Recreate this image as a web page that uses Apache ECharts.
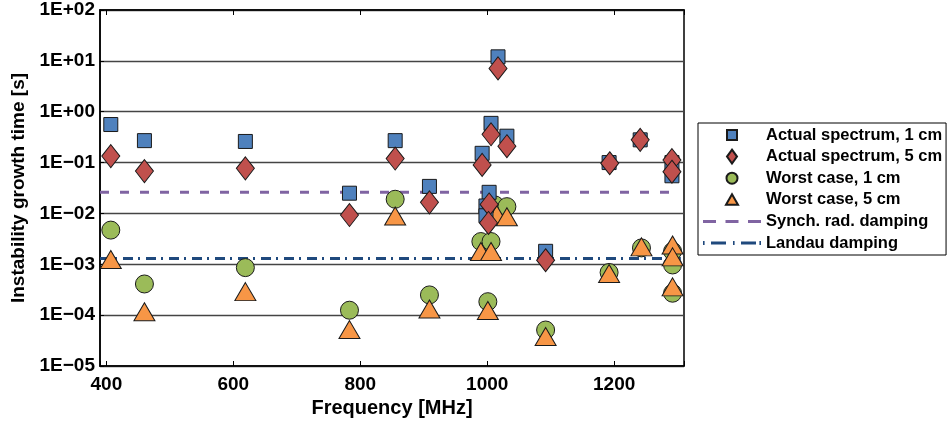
<!DOCTYPE html>
<html>
<head>
<meta charset="utf-8">
<script src="https://cdn.jsdelivr.net/npm/echarts@6/dist/echarts.min.js"></script>
<style>
  html, body { margin: 0; padding: 0; background: #fff; }
  #pic1 { width: 947px; height: 424px; }
</style>
</head>
<body>
<div id="pic1"></div>
<script>
// Actual spectrum, 1 cm
var actual1Freq = [407, 460, 619, 783, 855, 909, 992, 1006, 1017, 1031, 1003, 998, 998, 1092, 1192, 1241, 1291, 1291];
var actual1Time = [0.56, 0.27, 0.26, 0.025, 0.27, 0.034, 0.152, 0.59, 12, 0.33, 0.026, 0.014, 0.009, 0.0018, 0.1, 0.28, 0.055, 0.1];
// Actual spectrum, 5 cm
var actual5Freq = [407, 460, 619, 783, 855, 909, 992, 1006, 1017, 1031, 1003, 1002, 1092, 1193, 1241, 1291, 1291];
var actual5Time = [0.134, 0.068, 0.077, 0.0093, 0.12, 0.0165, 0.09, 0.36, 7.1, 0.21, 0.015, 0.0065, 0.0012, 0.097, 0.28, 0.112, 0.066];
// Worst case, 1 cm
var worst1Freq = [407, 460, 619, 783, 855, 909, 990, 1006, 1001, 1012, 1031, 1092, 1192, 1243, 1292, 1292, 1292];
var worst1Time = [0.0047, 0.00041, 0.00086, 0.000125, 0.019, 0.00025, 0.0028, 0.0028, 0.000184, 0.0147, 0.0136, 0.000051, 0.00069, 0.0021, 0.0018, 0.00097, 0.00027];
// Worst case, 5 cm
var worst5Freq = [407, 460, 619, 783, 855, 909, 990, 1006, 1001, 1015, 1031, 1092, 1192, 1243, 1292, 1292, 1292];
var worst5Time = [0.00124, 0.000117, 0.00029, 0.000052, 0.0089, 0.000132, 0.00178, 0.00178, 0.000123, 0.0095, 0.0086, 0.000038, 0.00066, 0.0022, 0.0024, 0.0014, 0.00036];
// damping levels
var synchFreq = [390, 1292];
var synchTime = [0.026, 0.026];
var landauFreq = [390, 1305];
var landauTime = [0.0013, 0.0013];

var names = ['Actual spectrum, 1 cm', 'Actual spectrum, 5 cm', 'Worst case, 1 cm', 'Worst case, 5 cm',
             'Synch. rad. damping', 'Landau damping'];

function pairs(xs, ys) {
    return xs.map(function (x, i) { return [x, ys[i]]; });
}

// legend icons: 58x14 box, empty moves at the corners keep the aspect
var box = 'M0,0L0,0M58,14L58,14';
var legendIcons = [
    'path://' + box + 'M24,2L34,2L34,12L24,12Z',
    'path://' + box + 'M29,0L34,7L29,14L24,7Z',
    'path://' + box + 'M34.5,7A5.5,5.5 0 1 1 23.5,7A5.5,5.5 0 1 1 34.5,7Z',
    'path://' + box + 'M29,1.5L35,12L23,12Z',
    'path://' + box + 'M0,5.5L13,5.5L13,8.5L0,8.5ZM22.5,5.5L35.5,5.5L35.5,8.5L22.5,8.5ZM45,5.5L58,5.5L58,8.5L45,8.5Z',
    'path://' + box + 'M0,5L1.6,5L1.6,9L0,9ZM8,5.5L23,5.5L23,8.5L8,8.5ZM30,5L31.6,5L31.6,9L30,9ZM38,5.5L53,5.5L53,8.5L38,8.5ZM56.4,5L58,5L58,9L56.4,9Z'
];

var font = 'Liberation Sans, Arial, sans-serif';
var pic1 = echarts.init(document.getElementById('pic1'));

var option = {
    backgroundColor: '#fff',
    animation: false,
    grid: { left: 100, right: 263, top: 10, bottom: 58, show: true, borderColor: '#000', borderWidth: 1.5 },
    legend: {
        orient: 'vertical',
        left: 698,
        top: 123,
        data: names.map(function (n, i) { return { name: n, icon: legendIcons[i] }; }),
        itemWidth: 58,
        itemHeight: 14,
        itemGap: 3.6,
        padding: [3, 4, 3, 4],
        borderColor: '#000',
        borderWidth: 1,
        textStyle: { fontFamily: font, fontWeight: 'bold', fontSize: 16.5, color: '#000', lineHeight: 18 }
    },
    xAxis: [{
        type: 'value',
        min: 390,
        max: 1310,
        name: 'Frequency [MHz]',
        nameLocation: 'middle',
        nameGap: 32,
        nameTextStyle: { fontFamily: font, fontWeight: 'bold', fontSize: 20, color: '#000' },
        axisLine: { lineStyle: { color: '#000', width: 1.5 } },
        axisTick: { inside: true, length: 5, lineStyle: { color: '#000' } },
        axisLabel: {
            fontFamily: font, fontWeight: 'bold', fontSize: 19, color: '#000', margin: 9,
            formatter: function (v) { return v % 200 === 0 ? String(v) : ''; }
        },
        splitLine: { show: false }
    }, {
        type: 'value',
        position: 'top',
        min: 390,
        max: 1310,
        axisLine: { lineStyle: { color: '#000', width: 1.5 } },
        axisTick: { inside: true, length: 5, lineStyle: { color: '#000' } },
        axisLabel: { show: false },
        splitLine: { show: false }
    }],
    yAxis: {
        type: 'log',
        logBase: 10,
        min: 1e-5,
        max: 100,
        name: 'Instability growth time [s]',
        nameLocation: 'middle',
        nameGap: 72,
        nameTextStyle: { fontFamily: font, fontWeight: 'bold', fontSize: 19, color: '#000' },
        axisLine: { lineStyle: { color: '#000', width: 1.5 } },
        axisTick: { inside: true, length: 4, lineStyle: { color: '#000' } },
        axisLabel: {
            fontFamily: font, fontWeight: 'bold', fontSize: 19, color: '#000', margin: 5,
            formatter: function (v) {
                var e = Math.round(Math.log10(v));
                var s = Math.abs(e) < 10 ? '0' + Math.abs(e) : String(Math.abs(e));
                return '1E' + (e < 0 ? '\u2212' : '+') + s;
            }
        },
        splitLine: { show: true, lineStyle: { color: '#444', width: 1.3 } }
    },
    series: [
        {
            name: names[0], type: 'scatter', z: 5,
            symbol: 'rect', symbolSize: 14,
            itemStyle: { color: '#4F81BD', borderColor: '#1a1a1a', borderWidth: 1, opacity: 1 },
            data: pairs(actual1Freq, actual1Time)
        },
        {
            name: names[1], type: 'scatter', z: 6,
            symbol: 'diamond', symbolSize: [18, 23],
            itemStyle: { color: '#C0504D', borderColor: '#1a1a1a', borderWidth: 1, opacity: 1 },
            data: pairs(actual5Freq, actual5Time)
        },
        {
            name: names[2], type: 'scatter', z: 3,
            symbol: 'circle', symbolSize: 18,
            itemStyle: { color: '#9BBB59', borderColor: '#1a1a1a', borderWidth: 1, opacity: 1 },
            data: pairs(worst1Freq, worst1Time)
        },
        {
            name: names[3], type: 'scatter', z: 4,
            symbol: 'triangle', symbolSize: [21, 18],
            itemStyle: { color: '#F79646', borderColor: '#1a1a1a', borderWidth: 1, opacity: 1 },
            data: pairs(worst5Freq, worst5Time)
        },
        {
            name: names[4], type: 'line', z: 2,
            symbol: 'none', showSymbol: false,
            lineStyle: { color: '#8064A2', width: 3, type: [9, 11] },
            itemStyle: { color: '#8064A2', borderWidth: 0 },
            data: pairs(synchFreq, synchTime)
        },
        {
            name: names[5], type: 'line', z: 2,
            symbol: 'none', showSymbol: false,
            lineStyle: { color: '#1F497D', width: 3, type: [10, 5, 2, 6] },
            itemStyle: { color: '#1F497D', borderWidth: 0 },
            data: pairs(landauFreq, landauTime)
        }
    ]
};

pic1.setOption(option);
</script>
</body>
</html>
